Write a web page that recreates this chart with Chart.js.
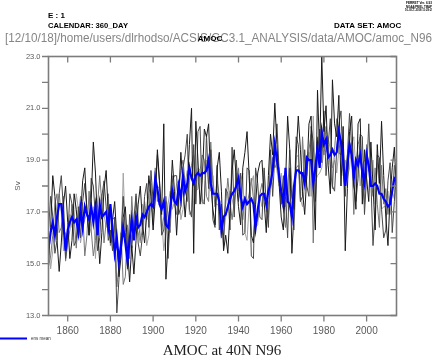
<!DOCTYPE html>
<html>
<head>
<meta charset="utf-8">
<script src="https://cdn.jsdelivr.net/npm/chart.js@4"></script>
<style>
html,body{margin:0;padding:0;background:#fff;}
#c{display:block;}
</style>
</head>
<body>
<canvas id="c" width="432" height="355"></canvas>
<script>
// ---- data ----
const firstYear = 1851;
const lastYear = 2014;
const years = [];
for (let y = firstYear; y <= lastYear; y++) years.push(y);

const xTickYears = [1860, 1880, 1900, 1920, 1940, 1960, 1980, 2000];
const yTickValues = [13, 14, 15, 16, 17, 18, 19, 20, 21, 22, 23];

const ensMean = [
15.6,16.2,16.6,16.1,16.8,17.3,17.3,16.5,15.5,16.3,
16.6,16.8,16.6,16.7,16.2,17.1,16.4,17.2,16.9,16.7,
17.2,16.6,17.2,16.1,17.3,16.8,16.9,17.0,16.4,17.3,
16.3,15.4,16.0,15.1,15.7,16.4,15.8,15.1,15.9,16.7,
15.9,16.8,16.4,16.5,16.9,16.8,17.0,17.2,17.3,17.2,
18.3,17.9,17.3,17.1,17.4,16.5,16.4,17.1,17.8,17.4,
17.3,18.0,17.5,18.4,17.8,18.1,18.7,18.3,18.1,18.4,
18.5,18.4,18.5,18.5,18.6,19.0,18.1,17.7,17.7,17.7,
17.4,16.3,16.8,16.9,17.2,17.5,17.7,17.8,18.0,18.3,
17.6,17.2,17.5,17.3,17.4,17.5,17.3,16.4,17.1,17.6,
17.7,17.7,17.3,17.8,18.1,18.6,19.6,19.0,18.4,17.8,
17.3,18.7,17.4,17.3,16.8,18.0,18.6,18.6,18.5,18.5,
18.1,19.1,19.0,19.0,18.1,18.7,19.5,18.7,20.1,19.6,
19.8,19.1,19.2,19.4,19.2,19.3,20.1,19.7,19.0,18.0,
18.8,19.6,19.2,18.3,19.0,18.8,19.2,18.5,18.1,19.2,
18.8,18.0,18.0,18.1,18.0,17.7,17.7,17.5,17.4,17.2,17.3,17.8,18.3,18.2
];

const member1 = [
15.1,16.4,18.4,17.6,15.9,14.7,15.8,17.3,18.0,16.6,
15.2,15.9,17.7,17.1,16.0,16.8,18.2,18.7,17.0,16.1,
17.4,19.7,18.5,16.4,15.0,16.2,17.9,18.6,17.0,15.8,
16.7,17.4,16.0,14.5,15.3,16.8,17.2,15.6,14.3,15.7,
14.6,15.9,17.3,18.0,16.6,15.8,16.9,18.4,17.6,16.3,
17.5,19.4,18.2,16.9,20.4,14.4,15.8,17.3,19.0,17.8,
16.1,17.6,19.3,18.0,16.8,17.9,19.6,21.0,15.4,20.5,
19.0,17.3,18.2,20.2,19.9,20.4,18.1,17.1,16.5,18.7,
19.3,17.8,15.5,16.1,15.4,17.0,18.6,19.4,18.2,17.2,
16.5,18.7,19.3,20.1,18.4,16.1,15.8,17.3,18.5,18.9,
19.0,17.4,16.2,18.4,20.0,19.2,21.2,19.6,18.1,16.8,
16.3,18.0,20.7,19.4,15.4,17.0,19.2,20.7,19.4,17.8,
16.9,18.4,20.4,20.7,18.0,16.3,21.7,19.3,23.0,20.1,
21.1,18.8,17.7,22.1,20.4,19.9,21.5,18.0,20.3,15.5,
17.9,20.1,20.7,18.2,17.1,20.4,20.6,17.3,19.4,18.3,
17.4,19.7,18.0,16.3,19.6,18.1,20.5,18.4,16.8,15.7,17.6,18.7,19.5,17.7
];

const member2 = [
16.3,17.6,16.8,15.4,15.9,17.7,18.4,17.1,15.2,15.9,
17.7,17.3,15.7,15.9,17.2,16.0,17.4,18.1,17.1,16.1,
18.3,18.0,16.8,15.5,16.0,17.6,18.2,17.2,15.9,16.3,
15.5,16.8,13.1,14.4,16.1,17.6,16.2,14.8,16.9,15.6,
16.7,17.7,15.8,15.3,16.1,17.6,18.1,16.4,18.6,17.4,
17.6,19.2,18.1,16.1,16.3,17.4,15.2,16.9,18.2,18.4,
18.4,16.9,17.2,18.7,19.2,20.0,17.1,16.8,19.6,17.3,
20.1,20.3,17.4,17.3,20.0,17.9,19.4,16.7,16.4,18.8,
16.3,17.3,15.7,17.9,17.7,16.3,19.5,16.8,19.0,17.4,
18.5,16.1,16.2,18.7,18.6,15.3,15.2,18.7,18.1,16.8,
16.7,18.7,17.3,16.4,19.4,17.6,19.2,20.4,18.6,17.3,
18.4,17.6,16.0,18.7,17.6,17.1,19.9,19.6,17.4,17.6,
19.4,18.0,17.6,20.3,19.7,17.4,19.2,20.2,18.9,20.9,
18.4,19.6,20.6,18.0,17.8,19.4,20.4,20.9,18.6,17.6,
19.2,20.8,19.5,18.0,17.4,18.3,20.0,19.9,16.9,18.4,
20.4,18.2,15.7,17.0,19.2,19.1,17.1,16.0,16.3,18.2,18.9,16.2,17.4,18.9
];

const member3 = [
14.9,15.3,16.1,17.3,17.7,16.2,16.4,17.6,15.1,15.8,
16.3,17.3,16.8,15.6,16.7,17.6,17.0,15.3,16.1,17.8,
16.3,15.3,15.9,17.3,18.4,17.3,15.8,16.6,17.7,15.7,
16.7,16.8,14.1,14.9,16.2,14.2,14.5,16.5,15.2,17.6,
16.2,17.6,16.8,15.9,16.3,17.4,16.7,17.7,18.1,16.5,
18.7,17.4,17.7,16.3,16.8,17.6,16.9,16.2,18.4,17.3,
16.9,17.8,18.6,19.0,18.1,17.4,18.2,18.8,19.2,17.8,
17.9,18.6,19.2,19.0,17.6,17.4,19.7,18.2,17.2,18.2,
17.6,16.0,16.7,17.3,18.3,17.4,16.7,17.4,18.1,18.7,
17.3,16.7,17.6,17.3,17.7,18.3,17.5,16.5,16.7,17.7,
18.1,17.6,17.4,16.8,18.0,19.1,18.7,18.9,18.7,17.4,
17.1,16.4,17.7,19.4,18.0,16.3,18.7,18.8,17.4,19.9,
18.2,18.4,19.4,20.0,15.8,18.6,19.9,18.7,20.0,19.2,
20.3,19.6,18.7,17.9,19.4,20.6,19.3,19.2,19.7,18.4,
19.2,19.7,19.4,16.9,18.7,19.6,19.9,18.1,17.3,19.6,
18.6,18.4,17.6,18.7,17.3,16.4,18.8,17.3,17.9,16.9,17.6,17.8,18.8,17.3
];

const member4 = [
16.1,14.8,15.5,16.5,17.3,17.7,17.0,15.5,16.2,16.0,
16.9,16.4,16.7,17.7,17.1,15.8,16.4,16.7,17.0,16.1,
16.4,17.2,15.2,16.8,17.3,17.7,16.9,16.4,17.2,16.8,
15.8,16.6,15.8,14.9,15.4,18.5,16.2,15.0,15.4,16.1,
16.1,16.4,16.2,15.8,17.3,17.0,15.7,16.1,17.4,16.8,
17.5,18.0,17.9,16.8,15.5,16.2,17.3,17.8,17.1,17.4,
18.1,18.2,16.7,17.1,18.1,18.6,16.9,17.0,18.3,17.4,
18.7,18.6,17.3,17.5,19.0,18.0,17.8,18.4,17.3,17.3,
17.2,16.3,16.1,16.8,17.2,17.8,17.5,17.1,18.5,17.8,
18.2,18.5,16.2,15.9,17.3,18.1,18.4,16.4,16.5,17.6,
17.2,18.6,17.0,17.3,17.9,18.5,19.2,18.6,18.0,18.5,
17.6,17.2,17.7,17.3,17.7,17.2,19.1,19.2,17.5,17.2,
18.0,18.6,19.3,17.6,20.7,18.2,18.4,18.5,18.7,19.4,
19.3,19.9,19.4,18.7,19.0,18.5,19.4,19.8,18.4,19.0,
18.3,18.7,19.6,19.9,18.6,19.2,18.0,18.8,19.0,18.9,
18.8,18.3,19.0,17.3,18.9,18.0,17.1,17.2,17.2,17.8,16.9,17.8,17.5,18.9
];

const members = [member1, member2, member3, member4];
const memberColors = ['#1a1a1a', '#484848', '#777777', '#a3a3a3'];

// ---- chart ----
const toPoints = arr => arr.map((v, i) => ({x: years[i], y: v}));

const datasets = [{
  label: 'ens mean',
  data: toPoints(ensMean),
  borderColor: '#0000ff',
  borderWidth: 2.2,
  pointRadius: 0,
  tension: 0,
  order: 0
}];
members.forEach((m, k) => datasets.push({
  label: 'member ' + (k + 1),
  data: toPoints(m),
  borderColor: memberColors[k],
  borderWidth: 1,
  pointRadius: 0,
  tension: 0,
  order: 1
}));

const AXIS = '#7c7c7c';
const LABEL = '#5a5a5a';

const decor = {
  id: 'decor',
  afterDatasetsDraw(chart) {
    const ctx = chart.ctx;
    const a = chart.chartArea;
    const xs = chart.scales.x, ys = chart.scales.y;
    ctx.save();
    ctx.strokeStyle = AXIS;
    ctx.lineWidth = 1.6;
    ctx.strokeRect(a.left, a.top, a.right - a.left, a.bottom - a.top);
    ctx.lineWidth = 1.3;
    ctx.beginPath();
    yTickValues.forEach(v => {
      const py = ys.getPixelForValue(v);
      ctx.moveTo(a.left - 6.5, py); ctx.lineTo(a.left, py);
      ctx.moveTo(a.right - 6, py); ctx.lineTo(a.right, py);
    });
    xTickYears.forEach(v => {
      const px = xs.getPixelForValue(v);
      ctx.moveTo(px, a.bottom); ctx.lineTo(px, a.bottom + 6);
      ctx.moveTo(px, a.top); ctx.lineTo(px, a.top + 6);
    });
    ctx.stroke();
    ctx.restore();
  },
  afterDraw(chart) {
    const ctx = chart.ctx;
    ctx.save();
    ctx.textBaseline = 'alphabetic';
    // header
    ctx.fillStyle = '#000';
    ctx.font = 'bold 8px "Liberation Sans", Arial, sans-serif';
    ctx.textAlign = 'left';
    ctx.fillText('E : 1', 48, 18);
    ctx.fillText('CALENDAR: 360_DAY', 48, 28, 80);
    ctx.fillText('DATA SET: AMOC', 334, 28, 74);
    ctx.font = 'bold 3.6px "Liberation Sans", Arial, sans-serif';
    ctx.textAlign = 'center';
    ctx.fillText('FERRET Ver. 6.93', 419, 4, 26);
    ctx.fillText('NOAA/PMEL TMAP', 419, 7.5, 26);
    ctx.fillText('10-OCT-2018 11:29:29', 419, 11, 28);
    // path line
    ctx.textAlign = 'left';
    ctx.fillStyle = '#858585';
    ctx.font = '12px "Liberation Sans", Arial, sans-serif';
    ctx.fillText('[12/10/18]/home/users/dlrhodso/ACSIS/GC3.1_ANALYSIS/data/AMOC/amoc_N96', 5, 42, 427);
    ctx.fillStyle = '#000';
    ctx.font = 'bold 8px "Liberation Sans", Arial, sans-serif';
    ctx.textAlign = 'center';
    ctx.fillText('AMOC', 210, 41);
    // y axis title
    ctx.save();
    ctx.translate(20, 186);
    ctx.rotate(-Math.PI / 2);
    ctx.fillStyle = LABEL;
    ctx.font = '8px "Liberation Sans", Arial, sans-serif';
    ctx.textAlign = 'center';
    ctx.fillText('Sv', 0, 0);
    ctx.restore();
    // legend
    ctx.strokeStyle = '#0000ff';
    ctx.lineWidth = 2;
    ctx.beginPath();
    ctx.moveTo(0, 338.5); ctx.lineTo(27, 338.5);
    ctx.stroke();
    ctx.fillStyle = '#333';
    ctx.font = '4.5px "Liberation Sans", Arial, sans-serif';
    ctx.textAlign = 'left';
    ctx.fillText('ens mean', 31, 340, 27);
    // title
    ctx.fillStyle = '#222';
    ctx.font = '15px "Liberation Serif", "Times New Roman", serif';
    ctx.textAlign = 'center';
    ctx.fillText('AMOC at 40N N96', 222, 355, 124);
    ctx.restore();
  }
};

new Chart(document.getElementById('c'), {
  type: 'line',
  data: { datasets },
  options: {
    responsive: false,
    animation: false,
    devicePixelRatio: 1,
    layout: { padding: { top: 56.5, right: 35.5, left: 0, bottom: 0 } },
    plugins: { legend: { display: false }, tooltip: { enabled: false }, title: { display: false } },
    scales: {
      x: {
        type: 'linear',
        min: firstYear,
        max: lastYear,
        grid: { display: false },
        border: { display: false },
        afterBuildTicks: s => { s.ticks = xTickYears.map(v => ({ value: v })); },
        afterFit: s => { s.height = 39.5; },
        ticks: {
          autoSkip: false, maxRotation: 0, padding: 2,
          color: LABEL,
          font: { family: '"Liberation Sans", Arial, sans-serif', size: 10 },
          callback: v => String(v)
        }
      },
      y: {
        type: 'linear',
        min: 13,
        max: 23,
        grid: { display: false },
        border: { display: false },
        afterBuildTicks: s => { s.ticks = yTickValues.map(v => ({ value: v })); },
        afterFit: s => { s.width = 48.5; },
        ticks: {
          autoSkip: false, padding: 0,
          color: LABEL,
          font: { family: '"Liberation Sans", Arial, sans-serif', size: 7.5 },
          callback: v => (v % 2 === 1 ? v.toFixed(1) : '')
        }
      }
    }
  },
  plugins: [decor]
});
</script>
</body>
</html>
